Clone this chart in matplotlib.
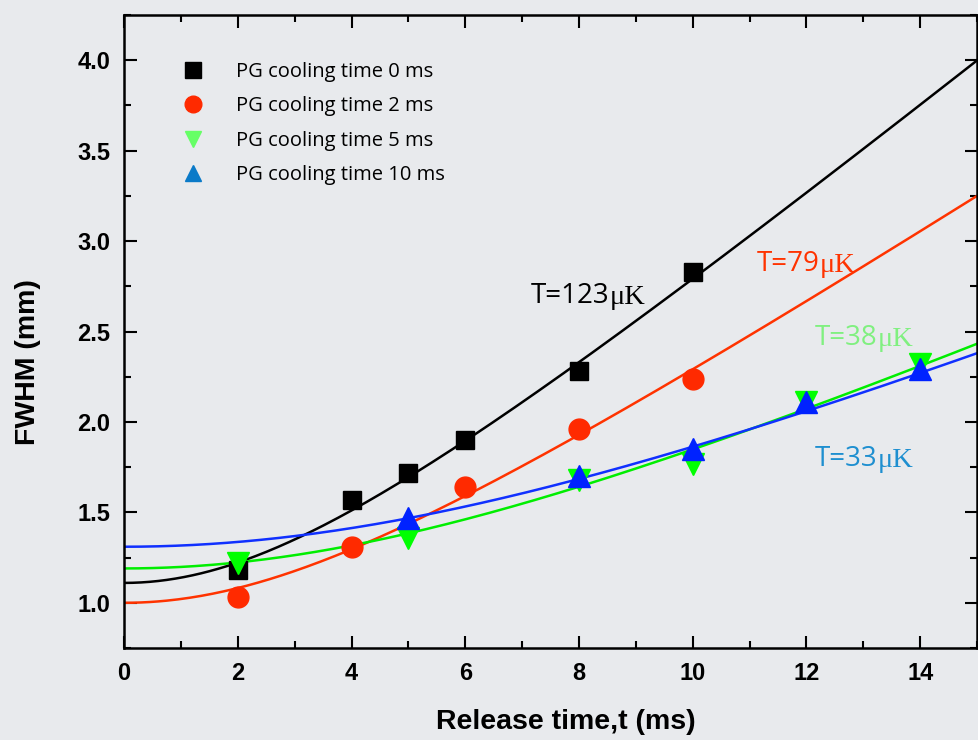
import numpy as np
import matplotlib.pyplot as plt
from matplotlib.lines import Line2D
from matplotlib.ticker import MultipleLocator

# measured widths (mm) vs release time (ms) for each PG cooling time
t0 = [2, 4, 5, 6, 8, 10]
w0 = [1.18, 1.57, 1.72, 1.90, 2.28, 2.83]
t2 = [2, 4, 6, 8, 10]
w2 = [1.03, 1.31, 1.64, 1.96, 2.24]
t5 = [2, 5, 8, 10, 12, 14]
w5 = [1.22, 1.36, 1.68, 1.77, 2.11, 2.32]
t10 = [5, 8, 10, 12, 14]
w10 = [1.47, 1.70, 1.85, 2.11, 2.29]

# ballistic expansion fits: w(t) = sqrt(w_init^2 + a t^2)
fit_w_init = [1.11, 1.00, 1.19, 1.31]
fit_a = [0.0656, 0.0425, 0.0200, 0.01755]
temps = ["T=123", "T=79", "T=38", "T=33"]
labels = ["PG cooling time 0 ms", "PG cooling time 2 ms",
          "PG cooling time 5 ms", "PG cooling time 10 ms"]

bg = "#E8EAED"
fig = plt.figure(figsize=(9.79, 7.4), dpi=100, facecolor=bg)
ax = fig.add_axes([0.1267, 0.1243, 0.8713, 0.8554])
ax.set_facecolor("none")

tt = np.linspace(0, 15, 300)
line_cols = ["black", "#FF3300", "#00EE00", "#1030FF"]
for wi, a, c in zip(fit_w_init, fit_a, line_cols):
    ax.plot(tt, np.sqrt(wi**2 + a * tt**2), color=c, lw=1.8, zorder=2)

ax.plot(t0, w0, "s", color="black", ms=13, zorder=3)
ax.plot(t2, w2, "o", color="#FF2A00", ms=15, zorder=3)
ax.plot(t5, w5, "v", color="#00FF00", ms=16, zorder=3)
ax.plot(t10, w10, "^", color="#0022FF", ms=16, zorder=4)

# temperature labels: number in sans, unit in serif
lab_pos = [(7.15, 2.66), (11.13, 2.835), (12.15, 2.425), (12.15, 1.755)]
lab_cols = ["black", "#FF3300", "#80F080", "#1E8FD0"]
for s, (x, y), c in zip(temps, lab_pos, lab_cols):
    tx = ax.text(x, y, s, color=c, fontsize=20, family="Open Sans", va="baseline")
    ax.annotate("μK", xy=(1, 0), xycoords=tx, color=c, fontsize=20.5,
                family="Liberation Serif", va="bottom", ha="left")

ax.set_xlim(0, 15)
ax.set_ylim(0.75, 4.25)
ax.xaxis.set_major_locator(MultipleLocator(2))
ax.xaxis.set_minor_locator(MultipleLocator(1))
ax.yaxis.set_major_locator(MultipleLocator(0.5))
ax.yaxis.set_minor_locator(MultipleLocator(0.25))
ax.yaxis.set_major_formatter(plt.FormatStrFormatter("%.1f"))
ax.tick_params(which="both", direction="in", top=True, right=True, width=1.5,
               labelsize=17, pad=10)
ax.tick_params(which="major", length=9)
ax.tick_params(which="minor", length=5)
for lb in ax.get_xticklabels() + ax.get_yticklabels():
    lb.set_fontweight("bold")
    lb.set_family("Liberation Sans")
for sp in ax.spines.values():
    sp.set_linewidth(1.8)

ax.set_xlabel("Release time,t (ms)", fontsize=20.5, fontweight="bold",
              family="Liberation Sans")
ax.set_ylabel("FWHM (mm)", fontsize=20.5, fontweight="bold",
              family="Liberation Sans")
ax.xaxis.set_label_coords(0.518, -0.096)
ax.yaxis.set_label_coords(-0.097, 0.452)

handles = [
    Line2D([], [], ls="none", marker="s", color="black", ms=11),
    Line2D([], [], ls="none", marker="o", color="#FF2A00", ms=12),
    Line2D([], [], ls="none", marker="v", color="#66FF66", ms=12),
    Line2D([], [], ls="none", marker="^", color="#0A7AC8", ms=12),
]
ax.legend(handles, labels, loc="upper left", bbox_to_anchor=(0.048, 0.955),
          frameon=False, prop={"family": "Open Sans", "size": 14.5},
          handletextpad=1.65, labelspacing=0.72, handlelength=1.0)

fig.savefig("out.png", dpi=100, facecolor=bg)
